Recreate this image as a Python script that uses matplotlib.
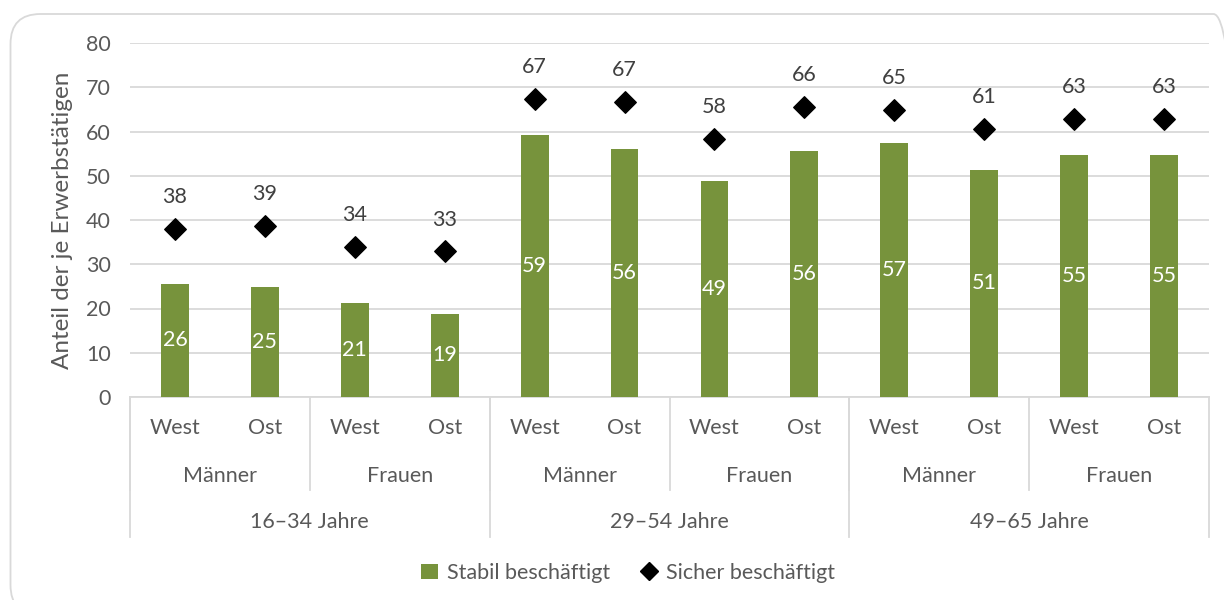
import matplotlib.pyplot as plt
from matplotlib.patches import FancyBboxPatch, Patch
from matplotlib.lines import Line2D
import matplotlib.transforms as mtransforms

### Data
AGE_GROUPS = ["16–34 Jahre", "29–54 Jahre", "49–65 Jahre"]
GENDERS = ["Männer", "Frauen"]
REGIONS = ["West", "Ost"]
STABIL = [25.6, 24.8, 21.2, 18.8, 59.3, 56.1, 48.9, 55.7, 57.4, 51.3, 54.8, 54.8]
SICHER = [37.9, 38.6, 33.9, 32.9, 67.4, 66.6, 58.3, 65.5, 64.9, 60.6, 62.8, 62.9]

### Styling
GREEN = "#77933C"
GRID = "#d9d9d9"
TEXT = "#595959"
LABEL = "#404040"
plt.rcParams["font.family"] = ["Lato", "DejaVu Sans"]
FS = 15.5

W, H = 1224, 600
fig = plt.figure(figsize=(W / 100, H / 100), dpi=100)

# Rounded outer border (pixel coordinates)
border = FancyBboxPatch((10.5, -15), 1233, 601,
                        boxstyle="round,pad=0,rounding_size=30",
                        transform=mtransforms.IdentityTransform(),
                        facecolor="none", edgecolor=GRID, lw=1.3)
fig.patches.append(border)

ax_left, ax_right, ax_top, ax_bottom = 130, 1209, 43, 397
ax = fig.add_axes([ax_left / W, 1 - ax_bottom / H,
                   (ax_right - ax_left) / W, (ax_bottom - ax_top) / H])
ax.set_facecolor("none")

n = len(STABIL)
x = list(range(n))
ax.bar(x, STABIL, width=0.31, color=GREEN, zorder=3)
ax.scatter(x, SICHER, marker="D", s=120, color="black", zorder=4)

for xi, v in zip(x, STABIL):
    ax.text(xi, v / 2, f"{v:.0f}", ha="center", va="center",
            color="white", fontsize=FS, zorder=5)
for xi, v in zip(x, SICHER):
    ax.text(xi, v + 7.2, f"{v:.0f}", ha="center", va="center",
            color=LABEL, fontsize=FS, zorder=5)

ax.set_xlim(-0.5, n - 0.5)
ax.set_ylim(0, 80)
ax.set_yticks(range(0, 81, 10))
ax.yaxis.grid(True, color=GRID, lw=1.3, zorder=0)
ax.set_axisbelow(True)
ax.tick_params(axis="y", length=0, labelsize=FS, labelcolor=TEXT, pad=14)
ax.set_xticks([])
for side in ["top", "right", "left"]:
    ax.spines[side].set_visible(False)
ax.spines["bottom"].set_color(GRID)
ax.spines["bottom"].set_linewidth(1.3)
ax.set_ylabel("Anteil der je Erwerbstätigen", fontsize=17.5, color=TEXT, labelpad=9)

# Multi-level category axis
trans = mtransforms.blended_transform_factory(ax.transData, ax.transAxes)
span = ax_bottom - ax_top
y_region = -(428 - ax_bottom) / span
y_gender = -(476 - ax_bottom) / span
y_group = -(522 - ax_bottom) / span
y_short = -(490 - ax_bottom) / span
y_long = -(537 - ax_bottom) / span

for i, xi in enumerate(x):
    ax.text(xi, y_region, REGIONS[i % 2], transform=trans, ha="center",
            va="center", fontsize=FS, color=TEXT)
for g in range(len(AGE_GROUPS) * len(GENDERS)):
    ax.text(2 * g + 0.5, y_gender, GENDERS[g % 2], transform=trans,
            ha="center", va="center", fontsize=FS, color=TEXT)
    ax.plot([2 * g - 0.5] * 2, [0, y_short], transform=trans, color=GRID,
            lw=1.3, clip_on=False)
for a, name in enumerate(AGE_GROUPS):
    ax.text(4 * a + 1.5, y_group, name, transform=trans, ha="center",
            va="center", fontsize=FS, color=TEXT)
for b in range(len(AGE_GROUPS) + 1):
    ax.plot([4 * b - 0.5] * 2, [0, y_long], transform=trans, color=GRID,
            lw=1.3, clip_on=False)

handles = [Patch(facecolor=GREEN, edgecolor="none", label="Stabil beschäftigt"),
           Line2D([], [], marker="D", color="black", ls="none", markersize=9,
                  label="Sicher beschäftigt")]
leg = fig.legend(handles=handles, loc="center", bbox_to_anchor=(628 / W, 1 - 573 / H),
                 ncol=2, frameon=False, fontsize=FS, handlelength=0.8,
                 handletextpad=0.4, columnspacing=1.4)
for t in leg.get_texts():
    t.set_color(TEXT)

fig.savefig("out.png", dpi=100)
